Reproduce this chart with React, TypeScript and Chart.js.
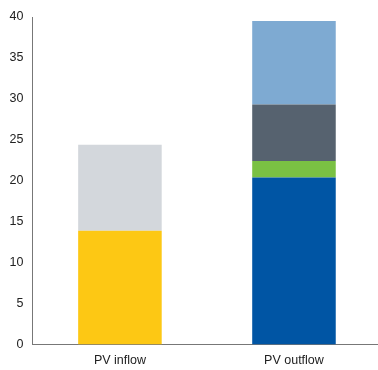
import React, { useEffect, useRef } from "react";
import { Chart, registerables } from "chart.js";

Chart.register(...registerables);

const categories = ["PV inflow", "PV outflow"];
const seriesYellow = [13.9, null];
const seriesLightGray = [10.5, null];
const seriesBlue = [null, 20.4];
const seriesGreen = [null, 2.0];
const seriesDarkGray = [null, 6.9];
const seriesLightBlue = [null, 10.2];
const yTicks = [0, 5, 10, 15, 20, 25, 30, 35, 40];

export default function App() {
  const ref = useRef<HTMLCanvasElement | null>(null);
  useEffect(() => {
    document.body.style.margin = "0";
    const ctx = ref.current!;
    const mk = (label: string, data: (number | null)[], color: string) => ({
      label,
      data,
      backgroundColor: color,
      borderWidth: 0,
      stack: "s",
      barPercentage: 0.48,
      categoryPercentage: 1,
    });
    const chart = new Chart(ctx, {
      type: "bar",
      data: {
        labels: categories,
        datasets: [
          mk("Yellow", seriesYellow, "#FDC814"),
          mk("LightGray", seriesLightGray, "#D3D7DC"),
          mk("Blue", seriesBlue, "#0055A4"),
          mk("Green", seriesGreen, "#7AC143"),
          mk("DarkGray", seriesDarkGray, "#56626F"),
          mk("LightBlue", seriesLightBlue, "#7EAAD2"),
        ],
      },
      options: {
        animation: false,
        responsive: false,
        maintainAspectRatio: false,
        layout: { padding: { top: 2, left: 0, right: 0, bottom: -7 } },
        plugins: { legend: { display: false }, tooltip: { enabled: false } },
        scales: {
          x: {
            stacked: true,
            grid: { display: false, drawTicks: false },
            border: { color: "#777", width: 1 },
            ticks: {
              color: "#222",
              font: { family: "Liberation Sans", size: 12.5, lineHeight: 1 },
              padding: 10,
            },
          },
          y: {
            stacked: true,
            min: 0,
            max: 40,
            afterBuildTicks: (axis: any) => {
              axis.ticks = yTicks.map((v) => ({ value: v }));
            },
            grid: { display: false, drawTicks: false },
            border: { color: "#777", width: 1 },
            ticks: {
              color: "#222",
              font: { family: "Liberation Sans", size: 12.5 },
              padding: 9.5,
            },
          },
        },
      },
    });
    return () => chart.destroy();
  }, []);
  return (
    <div style={{ width: 378, height: 370, overflow: "hidden" }}>
      <canvas ref={ref} width={381} height={370} style={{ display: "block" }} />
    </div>
  );
}
